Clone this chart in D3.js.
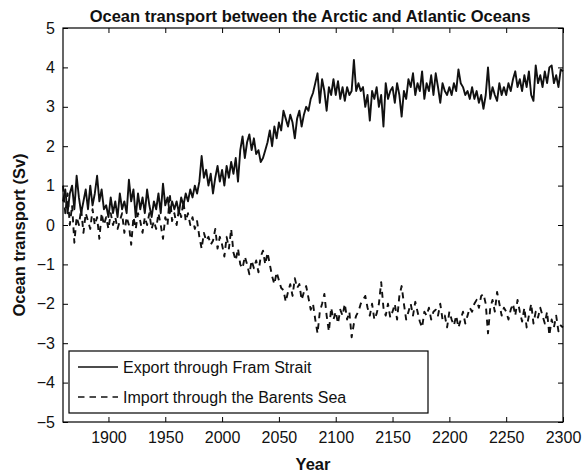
<!DOCTYPE html>
<html>
<head>
<meta charset="utf-8">
<script src="https://cdn.jsdelivr.net/npm/d3@7"></script>
<style>
  html, body { margin: 0; padding: 0; background: #fff; }
  svg { display: block; font-family: "Liberation Sans", Arial, Helvetica, sans-serif; }
</style>
</head>
<body>
<svg id="chart" width="582" height="474"></svg>
<script>
// ---- Data (2-year steps 1860..2300) ----
const startYear = 1860;
const yearStep = 2;

const framExport = [
  0.6, 0.9, 0.3, 0.8, 1.0,
  0.4, 1.25, 0.7, 0.3, 0.6,
  0.9, 0.4, 1.0, 0.5, 0.8,
  1.25, 0.6, 0.9, 0.4, 0.5,
  0.2, 0.7, 0.3, 0.6, 0.2,
  0.8, 0.4, 0.6, 0.3, 1.15,
  0.6, 0.9, 0.2, 0.8, 0.4,
  0.7, 0.3, 0.9, 0.5, 0.2,
  0.6, 0.4, 0.8, 0.3, 1.05,
  0.5, 0.7, 0.3, 0.6, 0.4,
  0.6, 0.3, 0.7, 0.5, 0.8,
  0.6, 0.9, 0.7, 1.0, 0.8,
  1.1, 1.75, 1.2, 1.4, 1.0,
  1.3, 0.8, 1.2, 1.5, 1.1,
  1.4, 1.0, 1.5, 1.2, 1.6,
  1.3, 1.7, 1.1, 1.9, 2.25,
  1.7, 2.1, 2.3, 1.9, 2.2,
  1.8, 1.9, 1.6, 1.7, 1.9,
  2.1, 2.4, 2.0, 2.5, 2.2,
  2.6, 2.4, 2.9, 2.7, 2.5,
  2.8, 2.6, 2.2, 2.7, 2.9,
  2.5, 2.8, 3.0, 2.9, 3.2,
  3.35, 3.6, 3.85, 3.1, 3.7,
  3.4, 2.9, 3.5, 3.3, 3.7,
  3.3, 3.65, 3.2, 3.5, 3.15,
  3.5, 3.3, 3.4, 4.19, 3.4,
  3.6, 3.4, 3.5, 3.0, 3.3,
  2.65, 3.4, 3.2, 3.5, 3.0,
  3.3, 2.5, 3.6, 3.2, 3.4,
  3.5, 3.1, 3.6, 3.3, 2.75,
  3.4, 3.2, 3.7, 3.5, 3.85,
  3.3, 3.6, 3.4, 3.9, 3.2,
  3.6, 3.4, 3.8, 3.3, 3.85,
  3.5, 3.1, 3.6, 3.4, 3.3,
  3.5, 3.3, 3.6, 3.4, 3.95,
  3.6, 3.5, 3.3, 3.4, 3.2,
  3.5, 3.2, 3.4, 3.1, 3.3,
  2.95, 3.3, 4.0, 3.2, 3.5,
  3.3, 3.15, 3.6, 3.3, 3.5,
  3.3, 3.6, 3.4, 3.7, 3.9,
  3.5, 3.7, 3.4, 3.8, 3.5,
  3.9, 3.3, 3.15, 4.05, 3.6,
  3.8, 3.5, 3.9, 3.6, 4.0,
  4.05, 3.6, 3.8, 3.5, 3.95,
  3.9
];

const barentsImport = [
  1.0, 0.3, 0.8, 0.0, 0.5,
  -0.45, 0.2, 0.0, 0.4, -0.2,
  0.3, 0.1, -0.1, 0.4, 0.0,
  0.2, -0.35, 0.3, 0.0, 0.2,
  -0.1, 0.3, 0.0, 0.2, -0.1,
  0.1, 0.3, -0.2, 0.2, 0.0,
  -0.5, 0.2, -0.1, 0.3, 0.1,
  -0.2, 0.2, 0.0, 0.3, -0.1,
  0.1, -0.1, 0.3, 0.0, -0.35,
  0.2, 0.0, 0.8, 0.1, 0.3,
  0.0, 0.4, 0.2, 0.6, 0.1,
  0.3, 0.0, 0.2, -0.1, 0.1,
  -0.3, -0.6, -0.2, -0.4, -0.3,
  -0.5, -0.4, -0.1, -0.6, -0.3,
  -0.5, -0.8, -0.3, -0.6, -0.1,
  -0.7, -0.9, -0.6, -1.0, -1.1,
  -0.8, -1.0, -1.25, -0.9, -1.1,
  -0.9, -1.2, -0.8, -0.65, -1.0,
  -0.7, -1.0, -1.3, -1.5, -1.2,
  -1.4, -1.6, -1.65, -1.95, -1.7,
  -1.5, -1.8, -1.35, -1.6, -1.5,
  -1.9, -1.7, -1.55, -1.85, -2.15,
  -2.0, -2.4, -2.75, -2.2, -2.0,
  -1.75, -2.3, -2.7, -2.1, -2.4,
  -2.2, -2.5, -2.15, -2.3, -2.0,
  -2.4, -2.2, -2.85, -2.5, -2.3,
  -2.2, -2.0, -1.9, -1.8, -2.1,
  -2.3, -2.0, -2.4, -2.25, -2.0,
  -1.45, -2.1, -2.3, -2.0, -2.35,
  -2.2, -2.0, -2.4, -1.8, -1.55,
  -2.0, -2.4, -2.2, -2.0, -2.3,
  -1.95, -2.2, -2.45, -2.6, -2.2,
  -2.3, -2.1, -2.4, -2.2, -2.15,
  -2.3, -2.0, -2.4, -2.3, -2.6,
  -2.2, -2.4, -2.55, -2.3, -2.6,
  -2.4, -2.2, -2.5, -2.3, -2.1,
  -2.2, -2.0, -1.9, -2.1, -1.8,
  -1.75, -2.0, -2.75, -2.1, -1.9,
  -2.2, -1.7, -2.0, -2.3, -2.1,
  -2.2, -2.4, -2.15, -2.0, -2.3,
  -1.9, -2.2, -2.45, -2.1, -2.6,
  -2.3, -2.0, -2.5, -2.2, -2.35,
  -2.1, -2.3, -2.5, -2.2, -2.8,
  -2.4, -2.6, -2.3, -2.7, -2.55,
  -2.6
];

const xTicks = [1900, 1950, 2000, 2050, 2100, 2150, 2200, 2250, 2300];
const yTicks = [-5, -4, -3, -2, -1, 0, 1, 2, 3, 4, 5];
const seriesNames = ["Export through Fram Strait", "Import through the Barents Sea"];
const titleText = "Ocean transport between the Arctic and Atlantic Oceans";
const xLabel = "Year";
const yLabel = "Ocean transport (Sv)";

// ---- Layout ----
const svg = d3.select("#chart");
const L = 63, R = 563, T = 28, B = 422;

const x = d3.scaleLinear().domain([1860, 2300]).range([L, R]);
const y = d3.scaleLinear().domain([-5, 5]).range([B, T]);

const toPts = arr => arr.map((v, i) => ({ year: startYear + i * yearStep, v }));

const line = d3.line().x(d => x(d.year)).y(d => y(d.v));

const fmt = d => (d < 0 ? "\u2212" + Math.abs(d) : String(d));

// axes (MATLAB-like: ticks inside, box)
const gx = svg.append("g").attr("transform", `translate(0,${B})`)
  .call(d3.axisBottom(x).tickValues(xTicks).tickSize(-5).tickPadding(10).tickFormat(d3.format("d")));
const gxTop = svg.append("g").attr("transform", `translate(0,${T})`)
  .call(d3.axisTop(x).tickValues(xTicks).tickSize(-5).tickFormat(""));
const gy = svg.append("g").attr("transform", `translate(${L},0)`)
  .call(d3.axisLeft(y).tickValues(yTicks).tickSize(-5).tickPadding(8).tickFormat(fmt));
const gyR = svg.append("g").attr("transform", `translate(${R},0)`)
  .call(d3.axisRight(y).tickValues(yTicks).tickSize(-5).tickFormat(""));

[gx, gxTop, gy, gyR].forEach(g => {
  g.select(".domain").remove();
  g.selectAll(".tick line").attr("stroke", "#000").attr("stroke-width", 1);
  g.selectAll("text").attr("fill", "#111").style("font-size", "16px")
    .style("font-family", '"Liberation Sans", Arial, sans-serif');
});

// data lines
const plot = svg.append("g");
plot.append("path").datum(toPts(barentsImport))
  .attr("fill", "none").attr("stroke", "#111").attr("stroke-width", 1.9)
  .attr("stroke-dasharray", "6,5").attr("stroke-linejoin", "round")
  .attr("d", line);
plot.append("path").datum(toPts(framExport))
  .attr("fill", "none").attr("stroke", "#111").attr("stroke-width", 1.9)
  .attr("stroke-linejoin", "round")
  .attr("d", line);

// box
svg.append("rect").attr("x", L).attr("y", T).attr("width", R - L).attr("height", B - T)
  .attr("fill", "none").attr("stroke", "#000").attr("stroke-width", 1.2);

// legend
const lg = svg.append("g");
lg.append("rect").attr("x", 69).attr("y", 351).attr("width", 359).attr("height", 62)
  .attr("fill", "#fff").attr("stroke", "#000").attr("stroke-width", 1.2);
const rowsY = [367, 397];
seriesNames.forEach((name, i) => {
  lg.append("line").attr("x1", 78).attr("x2", 118).attr("y1", rowsY[i]).attr("y2", rowsY[i])
    .attr("stroke", "#111").attr("stroke-width", 1.6)
    .attr("stroke-dasharray", i === 1 ? "6.5,5" : null);
  lg.append("text").attr("x", 123).attr("y", rowsY[i] + 6)
    .style("font-size", "16px").attr("fill", "#111").text(name);
});

// title and labels
svg.append("text").attr("x", 310).attr("y", 22).attr("text-anchor", "middle")
  .style("font-size", "16.5px").style("font-weight", "bold").attr("fill", "#111").text(titleText);
svg.append("text").attr("x", 313).attr("y", 470).attr("text-anchor", "middle")
  .style("font-size", "16.5px").style("font-weight", "bold").attr("fill", "#111").text(xLabel);
svg.append("text").attr("transform", `translate(25,235) rotate(-90)`)
  .attr("text-anchor", "middle")
  .style("font-size", "16.5px").style("font-weight", "bold").attr("fill", "#111").text(yLabel);
</script>
</body>
</html>
